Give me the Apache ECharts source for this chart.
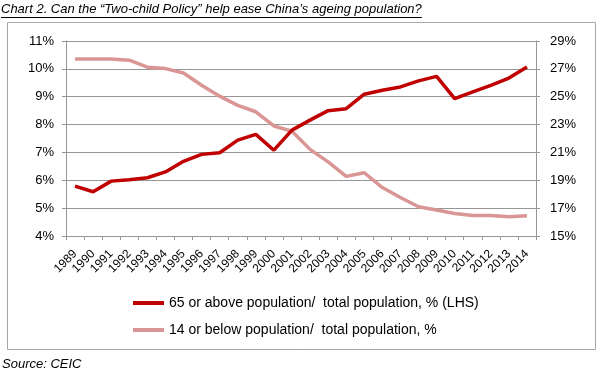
<!DOCTYPE html>
<html><head><meta charset="utf-8">
<script src="https://cdn.jsdelivr.net/npm/echarts@6/dist/echarts.min.js"></script>
<style>html,body{margin:0;padding:0;background:#fff}#c{width:600px;height:380px}</style>
</head><body><div id="c"></div>
<script>
const years = ['1989','1990','1991','1992','1993','1994','1995','1996','1997','1998','1999','2000','2001','2002','2003','2004','2005','2006','2007','2008','2009','2010','2011','2012','2013','2014'];
const over65 = [5.79,5.59,5.97,6.02,6.09,6.30,6.68,6.93,6.99,7.44,7.65,7.08,7.80,8.16,8.50,8.57,9.09,9.23,9.35,9.57,9.73,8.93,9.17,9.41,9.67,10.07];
const under14 = [27.7,27.7,27.7,27.62,27.12,27.02,26.7,25.82,25.04,24.38,23.92,22.9,22.52,21.22,20.32,19.28,19.54,18.48,17.76,17.1,16.86,16.62,16.48,16.48,16.38,16.46];
const seriesNames = ['65 or above population/  total population, % (LHS)','14 or below population/  total population, %'];
const titleText = 'Chart 2. Can the \u201cTwo-child Policy\u201d help ease China\u2019s ageing population?';
const sourceText = 'Source: CEIC';

const FONT = '"Liberation Sans", Arial, sans-serif';
const cv = document.createElement('canvas').getContext('2d');
cv.font = 'italic 13px ' + FONT;
const titleW = cv.measureText(titleText).width;

const chart = echarts.init(document.getElementById('c'), null, {renderer:'canvas'});
const gridColor = '#969696';
chart.setOption({
  animation:false,
  textStyle:{fontFamily:FONT},
  grid:{left:66,right:64,top:41,height:195,containLabel:false},
  xAxis:{type:'category',data:years,boundaryGap:true,
    axisLine:{lineStyle:{color:gridColor}},
    axisTick:{show:true,length:4,lineStyle:{color:gridColor}},
    axisLabel:{interval:0,rotate:45,fontSize:12,color:'#000',margin:16}},
  yAxis:[
    {type:'value',min:4,max:11,interval:1,position:'left',
     axisLine:{show:true,lineStyle:{color:gridColor}},
     axisTick:{show:true,length:4,lineStyle:{color:gridColor}},
     splitLine:{lineStyle:{color:gridColor}},
     axisLabel:{formatter:'{value}%',fontSize:13,color:'#000',margin:12}},
    {type:'value',min:15,max:29,interval:2,position:'right',
     axisLine:{show:true,lineStyle:{color:gridColor}},
     axisTick:{show:true,length:4,lineStyle:{color:gridColor}},
     splitLine:{show:false},
     axisLabel:{formatter:'{value}%',fontSize:13,color:'#000',margin:14}}
  ],
  legend:{orient:'vertical',left:128,top:291,itemWidth:31,itemHeight:4,itemGap:13,icon:'rect',
    textStyle:{fontSize:14,color:'#000'},data:seriesNames},
  series:[
    {name:seriesNames[0],type:'line',yAxisIndex:0,data:over65,showSymbol:false,symbol:'none',
     lineStyle:{color:'#C00000',width:3.5},itemStyle:{color:'#C00000'},z:3},
    {name:seriesNames[1],type:'line',yAxisIndex:1,data:under14,showSymbol:false,symbol:'none',
     lineStyle:{color:'#D99694',width:3.5},itemStyle:{color:'#D99694'},z:2}
  ],
  graphic:[
    {type:'rect',shape:{x:7.5,y:22.5,width:588,height:327},style:{fill:null,stroke:'#a6a6a6',lineWidth:1},z:-1},
    {type:'text',x:1,y:3,style:{text:titleText,font:'italic 13px '+FONT,fill:'#000'}},
    {type:'line',shape:{x1:1,y1:17.5,x2:1+titleW,y2:17.5},style:{stroke:'#000',lineWidth:1}},
    {type:'text',x:2,y:358,style:{text:sourceText,font:'italic 13px '+FONT,fill:'#000'}}
  ]
});
</script></body></html>
